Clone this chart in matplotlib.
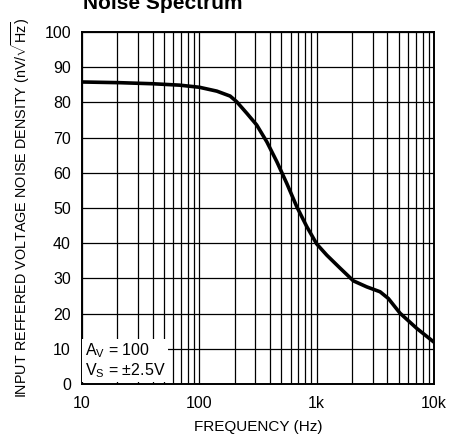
import matplotlib
matplotlib.use('Agg')
import matplotlib.pyplot as plt
from matplotlib.ticker import FixedLocator, NullFormatter

# curve (Hz, nV/sqrt(Hz))
freq = [10, 21, 40, 68, 100, 141, 183, 208, 254, 308, 376, 457, 556, 676, 824,
        1000, 1220, 1585, 2056, 2670, 3470, 4080, 5140, 7130, 9900]
noise = [85.8, 85.6, 85.3, 84.9, 84.3, 83.2, 81.8, 80.2, 76.9, 73.6, 68.8, 63.2, 57.0, 50.4, 44.7,
         39.8, 36.6, 32.9, 29.3, 27.6, 26.2, 24.3, 20.1, 15.8, 12.0]

x_ticks = [10, 100, 1000, 10000]
x_tick_labels = ['10', '100', '1k', '10k']
y_ticks = list(range(0, 101, 10))

plt.rcParams['font.family'] = ['Liberation Sans', 'DejaVu Sans']
plt.rcParams['mathtext.fontset'] = 'custom'
plt.rcParams['mathtext.rm'] = 'Liberation Sans'

fig = plt.figure(figsize=(4.67, 4.40), dpi=100)
ax = fig.add_axes([82 / 467, 1 - 384 / 440, 352 / 467, 352 / 440])

ax.plot(freq, noise, color='black', linewidth=2.6, solid_joinstyle='round', zorder=3)

ax.set_xscale('log')
ax.set_xlim(10, 10000)
ax.set_ylim(0, 100)
ax.set_xticks(x_ticks)
ax.set_xticklabels(x_tick_labels)
ax.xaxis.set_minor_locator(FixedLocator([m * 10 ** d for d in range(1, 4) for m in range(2, 10)]))
ax.xaxis.set_minor_formatter(NullFormatter())
ax.set_yticks(y_ticks)

ax.grid(True, which='both', axis='x', color='black', linewidth=0.9)
ax.grid(True, which='major', axis='y', color='black', linewidth=0.9)
ax.tick_params(which='both', length=0, labelsize=11.5)
ax.tick_params(axis='x', pad=9)
ax.tick_params(axis='y', pad=8)
for s in ax.spines.values():
    s.set_linewidth(1.4)

ax.set_xlabel('FREQUENCY (Hz)', fontsize=11, labelpad=6)
ax.set_ylabel(r'INPUT REFFERED VOLTAGE NOISE DENSITY (nV/$\sqrt{\mathrm{Hz}}$)',
              fontsize=10.4, labelpad=9)

ax.text(0.008, 0.012, 'A$_\\mathrm{V}$ = 100\nV$_\\mathrm{S}$ = ±2.5V',
        transform=ax.transAxes, fontsize=11.5, ha='left', va='bottom', linespacing=1.05,
        bbox=dict(facecolor='white', edgecolor='none', pad=2), zorder=4)

fig.text(83 / 467, 1 - 9 / 440, 'Noise Spectrum', fontsize=15, fontweight='bold',
         ha='left', va='baseline')

fig.savefig('out.png', dpi=100)
